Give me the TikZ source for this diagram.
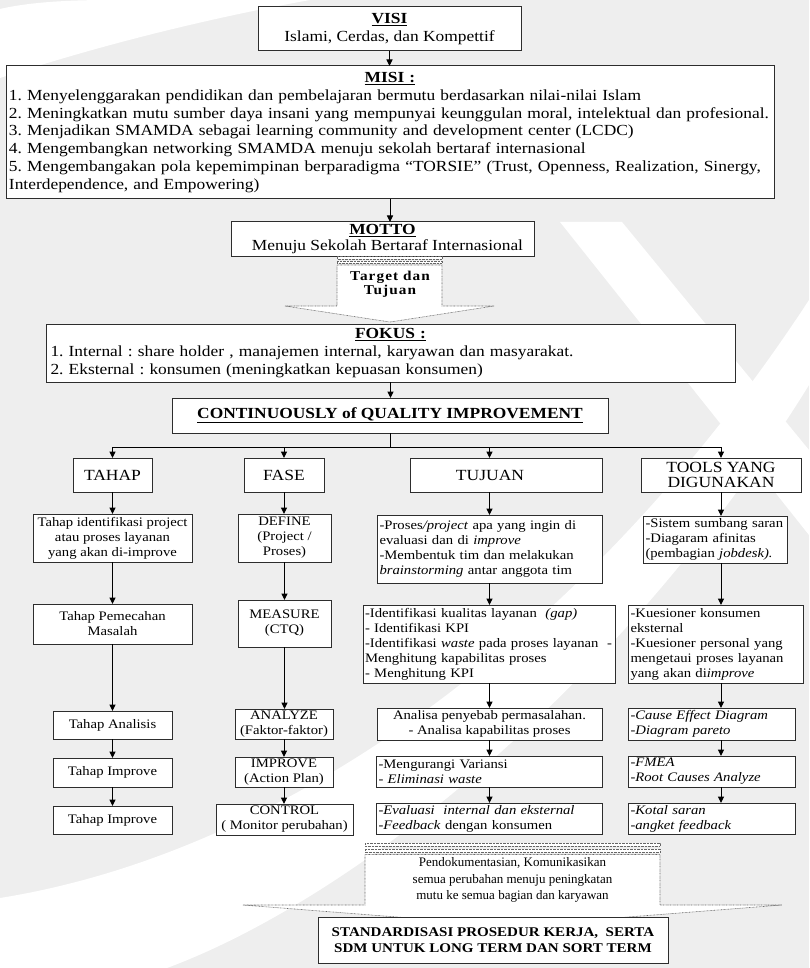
\documentclass[tikz,border=0pt]{standalone}
\usepackage{fontspec}
\setmainfont{Liberation Serif}[FakeStretch=1.13]
\newfontfamily\plainserif{Liberation Serif}
\usetikzlibrary{arrows.meta,calc}
\definecolor{bggray}{RGB}{238,238,238}
\definecolor{edge}{RGB}{45,45,45}
\newcommand\bx[7]{\node[box,#6,minimum width={(#4)-(#2)},minimum height={(#5)-(#3)}] (#1) at ({((#2)+(#4))/2},{((#3)+(#5))/2}) {#7};}
\begin{document}
\frenchspacing
\begin{tikzpicture}[x=1pt,y=-1pt,
  box/.style={draw=edge, fill=white, line width=1pt, inner xsep=2pt, inner ysep=1pt, outer sep=0pt},
  arr/.style={draw=black, line width=1pt, -{Triangle[length=6.5pt,width=6pt]}},
  conn/.style={draw=black, line width=1pt},
  big/.style={font=\fontsize{15.4}{17.7}\selectfont},
  small/.style={font=\fontsize{13}{15}\selectfont},
  fat/.style={draw=black!60, line width=0.6pt, dash pattern=on 0.7pt off 0.7pt, fill=white},
]
\useasboundingbox (0,0) rectangle (809,968);
% background
\fill[bggray] (0,0) rectangle (809,968);
\fill[white] (0,9) .. controls (30,2) and (70,0) .. (110,0) -- (310,0) .. controls (210,18) and (100,45) .. (0,78) -- cycle;
\fill[white] (0,898) .. controls (300,850) and (600,620) .. (809,300) -- (809,385) .. controls (620,690) and (350,900) .. (167,968) -- (0,968) -- cycle;
\fill[white] (560,222) -- (622,222) -- (809,450) -- (809,535) -- cycle;

% top boxes
\bx{visi}{258}{7}{521}{51}{big,align=center}{\textbf{\underline{VISI}}\\Islami, Cerdas, dan Kompettif}
\bx{misi}{6}{66}{774}{199}{big,text width=762pt,align=left}{\makebox[\hsize][c]{\textbf{\underline{MISI :}}}\\
\mbox{1. Menyelenggarakan pendidikan dan pembelajaran bermutu berdasarkan nilai-nilai Islam}\\
\mbox{2. Meningkatkan mutu sumber daya insani yang mempunyai keunggulan moral, intelektual dan profesional.}\\
\mbox{3. Menjadikan SMAMDA sebagai learning community and development center (LCDC)}\\
\mbox{4. Mengembangkan networking SMAMDA menuju sekolah bertaraf internasional}\\
\mbox{5. Mengembangakan pola kepemimpinan berparadigma “TORSIE” (Trust, Openness, Realization, Sinergy,}\\
\mbox{Interdependence, and Empowering)}}
\bx{motto}{231}{222}{534}{256}{font=\fontsize{15.4}{16.5}\selectfont,align=center,inner ysep=0pt}{\textbf{\underline{MOTTO}}\\\hspace*{10pt}Menuju Sekolah Bertaraf Internasional}

% striped arrow 1
\path[fat] (337,256.5) rectangle (442,258.8);
\path[fat] (337,260.8) rectangle (442,263.2);
\path[fat] (337,265) -- (442,265) -- (442,306) -- (494,306) -- (390,322) -- (285,306) -- (337,306) -- cycle;
\node[font={\bfseries\fontsize{13.5}{14}\selectfont\addfontfeature{LetterSpace=8}}, align=center] (tgt) at (390,284) {Target dan\\Tujuan};

\bx{fokus}{46}{324}{735}{382}{big,text width=680pt,align=left}{\makebox[\hsize][c]{\textbf{\underline{FOKUS :}}}\\
\mbox{1. Internal : share holder , manajemen internal, karyawan dan masyarakat.}\\
\mbox{2. Eksternal : konsumen (meningkatkan kepuasan konsumen)}}
\bx{cqi}{172}{398}{608}{433}{big}{\textbf{\underline{CONTINUOUSLY of QUALITY IMPROVEMENT}}}

% heads
\bx{tahap}{73}{458}{152}{492}{font=\fontsize{15.5}{16}\selectfont}{TAHAP}
\bx{fase}{244}{458}{324}{492}{font=\fontsize{15.5}{16}\selectfont}{FASE}
\bx{tuj}{410}{458}{602}{492}{font=\fontsize{15.5}{16}\selectfont}{TUJUAN\hspace*{32pt}}
\bx{tools}{641}{458}{801}{492}{font=\fontsize{15.5}{15.5}\selectfont,align=center,inner ysep=0pt}{TOOLS YANG\\DIGUNAKAN}

% column 1
\bx{a2}{33}{514}{192}{562}{small,align=center}{Tahap identifikasi project\\atau proses layanan\\yang akan di-improve}
\bx{a3}{33}{604}{192}{644}{small,align=center}{Tahap Pemecahan\\Masalah}
\bx{a4}{53}{711}{172}{739}{small}{Tahap Analisis}
\bx{a5}{53}{758}{172}{787}{small}{Tahap Improve}
\bx{a6}{53}{806}{172}{834}{small}{Tahap Improve}

% column 2
\bx{b2}{238}{514}{331}{562}{small,align=center}{DEFINE\\(Project /\\Proses)}
\bx{b3}{238}{600}{331}{647}{small,align=center}{MEASURE\\(CTQ)}
\bx{b4}{235}{709}{333}{739}{small,align=center,inner ysep=0pt,inner xsep=1pt}{ANALYZE\\(Faktor-faktor)}
\bx{b5}{235}{757}{333}{787}{small,align=center,inner ysep=0pt}{IMPROVE\\(Action Plan)}
\bx{b6}{216}{804}{353}{835}{small,align=center,inner ysep=0pt}{CONTROL\\( Monitor perubahan)}

% column 3
\bx{c2}{377}{515}{602}{583}{small,align=left,text width=220pt}{\mbox{-Proses\textit{/project} apa yang ingin di}\\\mbox{evaluasi dan di \textit{improve}}\\\mbox{-Membentuk tim dan melakukan}\\\mbox{\textit{brainstorming} antar anggota tim}}
\bx{c3}{363}{605}{615}{683}{small,align=left,text width=248pt,inner xsep=1.5pt}{\mbox{-Identifikasi kualitas layanan\ \ \textit{(gap)}}\\\mbox{- Identifikasi KPI}\\\mbox{-Identifikasi \textit{waste} pada proses layanan\ \ -}\\\mbox{Menghitung kapabilitas proses}\\\mbox{- Menghitung KPI}}
\bx{c4}{377}{708}{602}{740}{small,align=center,inner ysep=0pt}{Analisa penyebab permasalahan.\\- Analisa kapabilitas proses}
\bx{c5}{376}{756}{602}{787}{small,align=left,text width=221pt,inner ysep=0pt}{\mbox{-Mengurangi Variansi}\\\mbox{- \textit{Eliminasi waste}}}
\bx{c6}{376}{803}{602}{834}{small,align=left,text width=221pt,inner ysep=0pt}{\mbox{\textit{-Evaluasi\ \ internal dan eksternal}}\\\mbox{\textit{-Feedback} dengan konsumen}}

% column 4
\bx{d2}{643}{516}{787}{563}{small,align=left,text width=139pt}{\mbox{-Sistem sumbang saran}\\\mbox{-Diagaram afinitas}\\\mbox{(pembagian \textit{jobdesk).}}}
\bx{d3}{628}{605}{803}{683}{small,align=left,text width=170pt}{\mbox{-Kuesioner konsumen}\\\mbox{eksternal}\\\mbox{-Kuesioner personal yang}\\\mbox{mengetaui proses layanan}\\\mbox{yang akan di\textit{improve}}}
\bx{d4}{628}{708}{795}{740}{small,align=left,text width=162pt,inner ysep=0pt}{\mbox{\textit{-Cause Effect Diagram}}\\\mbox{\textit{-Diagram pareto}}}
\bx{d5}{628}{756}{795}{787}{small,align=left,text width=162pt,inner ysep=0pt}{\mbox{\textit{-FMEA}}\\\mbox{\textit{-Root Causes Analyze}}}
\bx{d6}{628}{803}{795}{834}{small,align=left,text width=162pt,inner ysep=0pt}{\mbox{\textit{-Kotal saran}}\\\mbox{\textit{-angket feedback}}}

% striped arrow 2
\path[fat] (365,843) rectangle (660,846);
\path[fat] (365,849) rectangle (660,852.5);
\path[fat] (365,854.5) -- (660,854.5) -- (660,905) -- (782,905) -- (512.5,926) -- (243,905) -- (365,905) -- cycle;
\node[font={\plainserif\fontsize{13}{16.5}\selectfont}, align=center] (doc) at (512.5,880) {Pendokumentasian, Komunikasikan\\semua perubahan menuju peningkatan\\mutu ke semua bagian dan karyawan};

\bx{std}{318}{917}{668}{963}{font={\bfseries\fontsize{13.3}{16}\selectfont},align=center}{STANDARDISASI PROSEDUR KERJA,\ \ SERTA\\SDM UNTUK LONG TERM DAN SORT TERM}

% connectors
\draw[arr] (visi.south) -- (visi.south |- misi.north);
\draw[arr] (misi.south) -- (misi.south |- motto.north);
\draw[arr] (fokus.south) -- (fokus.south |- cqi.north);
\coordinate (bus) at ($(cqi.south)+(0,14)$);
\draw[conn] (cqi.south) -- (bus);
\draw[conn] (tahap.north |- bus) -- (tools.north |- bus);
\draw[arr] (tahap.north |- bus) -- (tahap.north);
\draw[arr] (fase.north |- bus) -- (fase.north);
\draw[arr] (c2.north |- bus) -- (c2.north |- tuj.north);
\draw[arr] (tools.north |- bus) -- (tools.north);
% column 1
\draw[arr] (tahap.south) -- (tahap.south |- a2.north);
\draw[arr] (a2.south) -- (a2.south |- a3.north);
\draw[arr] (a3.south) -- (a3.south |- a4.north);
\draw[arr] (a4.south) -- (a4.south |- a5.north);
\draw[arr] (a5.south) -- (a5.south |- a6.north);
% column 2
\draw[arr] (fase.south) -- (fase.south |- b2.north);
\draw[arr] (b2.south) -- (b2.south |- b3.north);
\draw[arr] (b3.south) -- (b3.south |- b4.north);
\draw[arr] (b4.south) -- (b4.south |- b5.north);
\draw[arr] (b5.south) -- (b5.south |- b6.north);
% column 3
\draw[arr] (c2.north |- tuj.south) -- (c2.north);
\draw[arr] (c2.south) -- (c2.south |- c3.north);
\draw[arr] (c2.south |- c3.south) -- (c2.south |- c4.north);
\draw[arr] (c4.south) -- (c4.south |- c5.north);
\draw[arr] (c4.south |- c5.south) -- (c4.south |- c6.north);
% column 4
\draw[arr] (tools.south) -- (tools.south |- d2.north);
\draw[arr] (tools.south |- d2.south) -- (tools.south |- d3.north);
\draw[arr] (tools.south |- d3.south) -- (tools.south |- d4.north);
\draw[arr] (tools.south |- d4.south) -- (tools.south |- d5.north);
\draw[arr] (tools.south |- d5.south) -- (tools.south |- d6.north);
\end{tikzpicture}
\end{document}
